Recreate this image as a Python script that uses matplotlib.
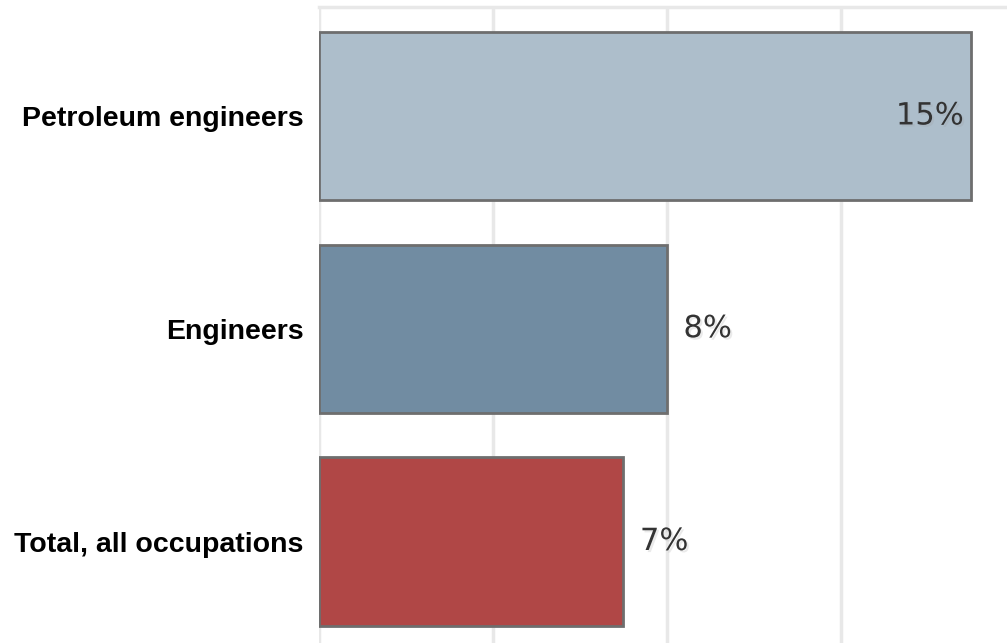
import numpy as np
import matplotlib
matplotlib.use('Agg')
import matplotlib.pyplot as plt
import matplotlib.patheffects as pe

categories = ['Petroleum engineers', 'Engineers', 'Total, all occupations']
values = [15, 8, 7]
colors = ['#adbecb', '#718ca2', '#b04746']
gridlines = [0, 4, 8, 12]

fig = plt.figure(figsize=(10.07, 6.43), dpi=100)
ax = fig.add_axes([319 / 1007, 0.0, 1 - 319 / 1007, (643 - 7) / 643])

y = np.arange(len(categories))
ax.barh(y, values, height=0.79, color=colors, edgecolor='#6e6e6e', linewidth=2, zorder=3)

ax.set_xlim(0, 15.82)
ax.set_ylim(2.477, -0.512)
ax.set_xticks(gridlines)
ax.xaxis.grid(True, color='#e8e8e8', linewidth=2.5, zorder=0)
ax.tick_params(axis='x', length=0, labelbottom=False)
ax.tick_params(axis='y', length=0, pad=11)
ax.set_yticks(y)
ax.set_yticklabels(categories, fontsize=20.5, fontweight='bold', family='Liberation Sans')

for s in ['right', 'bottom', 'left']:
    ax.spines[s].set_visible(False)
ax.spines['top'].set_color('#e8e8e8')
ax.spines['top'].set_linewidth(2.5)

# value labels: inside the bar if it is too long, else just after it
for i, v in enumerate(values):
    if v > 12:
        t = ax.text(v - 0.18, i, f'{v}%', ha='right', va='center', fontsize=22, color='#333333', zorder=4)
    else:
        t = ax.text(v + 0.38, i, f'{v}%', ha='left', va='center', fontsize=22, color='#333333', zorder=4)
    t.set_path_effects([pe.withSimplePatchShadow(offset=(1.5, -1.5), shadow_rgbFace='#999999', alpha=0.2)])

fig.savefig('out.png', dpi=100)
